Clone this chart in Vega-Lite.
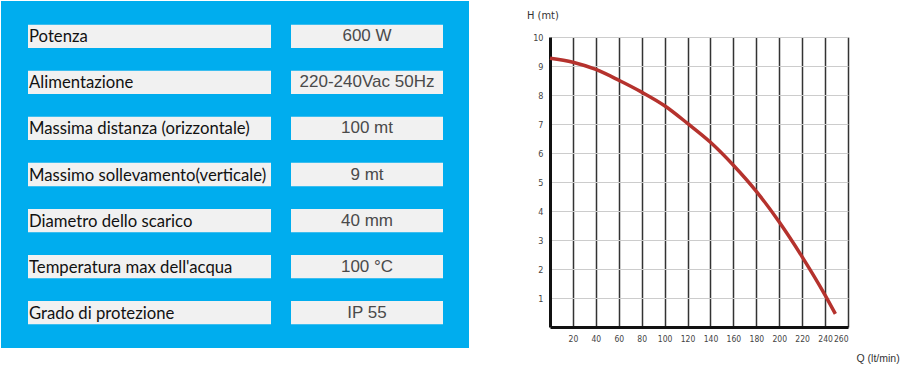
{
  "$schema": "https://vega.github.io/schema/vega-lite/v6.json",
  "padding": {"left": 1, "top": 1, "right": 0, "bottom": 0},
  "background": "white",
  "config": {"view": {"stroke": null}, "font": "Liberation Sans"},
  "spacing": 58,
  "hconcat": [
    {
      "width": 468,
      "height": 347,
      "view": {"fill": "#00ADEE", "stroke": null},
      "data": {"values": [
        {"parametro": "Potenza", "valore": "600 W"},
        {"parametro": "Alimentazione", "valore": "220-240Vac 50Hz"},
        {"parametro": "Massima distanza (orizzontale)", "valore": "100 mt"},
        {"parametro": "Massimo sollevamento(verticale)", "valore": "9 mt"},
        {"parametro": "Diametro dello scarico", "valore": "40 mm"},
        {"parametro": "Temperatura max dell'acqua", "valore": "100 °C"},
        {"parametro": "Grado di protezione", "valore": "IP 55"}
      ]},
      "encoding": {
        "y": {"field": "parametro", "type": "nominal", "sort": null, "axis": null,
              "scale": {"paddingInner": 0.494, "paddingOuter": 0.515}}
      },
      "layer": [
        {"mark": {"type": "rect", "x": 27, "x2": 270, "color": "#f1f1f1"}},
        {"mark": {"type": "rect", "x": 290, "x2": 442, "color": "#f1f1f1"}},
        {"mark": {"type": "text", "x": 28, "dy": 1, "align": "left", "baseline": "middle", "font": "Lato", "fontSize": 16.7, "color": "#111"},
         "encoding": {"text": {"field": "parametro"}}},
        {"mark": {"type": "text", "x": 366, "align": "center", "baseline": "middle", "font": "Liberation Sans", "fontSize": 17, "color": "#4a4a4a"},
         "encoding": {"text": {"field": "valore"}}}
      ]
    },
    {
      "spacing": 2,
      "vconcat": [
        {
          "width": 1,
          "height": 30,
          "data": {"values": [{"t": "H (mt)"}]},
          "mark": {"type": "text", "x": -23, "align": "left", "baseline": "middle", "font": "DejaVu Sans Condensed", "fontSize": 11, "color": "#333"},
          "encoding": {"text": {"field": "t"}}
        },
        {
          "width": 298,
          "height": 290,
          "data": {"values": [
            {"q": 0, "h": 9.27},
            {"q": 20, "h": 9.13},
            {"q": 40, "h": 8.88},
            {"q": 60, "h": 8.51},
            {"q": 80, "h": 8.1},
            {"q": 100, "h": 7.63},
            {"q": 120, "h": 7.02},
            {"q": 140, "h": 6.37},
            {"q": 160, "h": 5.58},
            {"q": 180, "h": 4.68},
            {"q": 200, "h": 3.62},
            {"q": 220, "h": 2.42},
            {"q": 240, "h": 1.1},
            {"q": 249, "h": 0.45}
          ]},
          "mark": {"type": "line", "color": "#b5322d", "strokeWidth": 3.5, "interpolate": "monotone"},
          "encoding": {
            "x": {"field": "q", "type": "quantitative",
                  "scale": {"domain": [0, 260], "nice": false},
                  "axis": {"values": [20, 40, 60, 80, 100, 120, 140, 160, 180, 200, 220, 240, 260],
                           "domainColor": "#111", "domainWidth": 3, "ticks": false,
                           "grid": true, "gridColor": "#333", "gridWidth": 1.5,
                           "labelOverlap": false, "labelBound": false,
                           "labelFont": "DejaVu Sans Condensed", "labelFontSize": 8.5, "labelColor": "#444", "labelPadding": 7,
                           "title": "Q (lt/min)", "titleFont": "Liberation Sans", "titleFontSize": 10.5, "titleFontWeight": "normal",
                           "titleColor": "#333", "titleAlign": "left", "titleAnchor": null, "titleX": 306, "titleY": 31, "titleBaseline": "middle"}},
            "y": {"field": "h", "type": "quantitative",
                  "scale": {"domain": [0, 10], "nice": false},
                  "axis": {"values": [1, 2, 3, 4, 5, 6, 7, 8, 9, 10],
                           "domainColor": "#111", "domainWidth": 3, "ticks": false,
                           "grid": true, "gridColor": "#cccccc", "gridWidth": 1,
                           "labelFont": "DejaVu Sans Condensed", "labelFontSize": 9, "labelColor": "#444", "labelPadding": 7,
                           "title": null}}
          }
        }
      ]
    }
  ]
}
